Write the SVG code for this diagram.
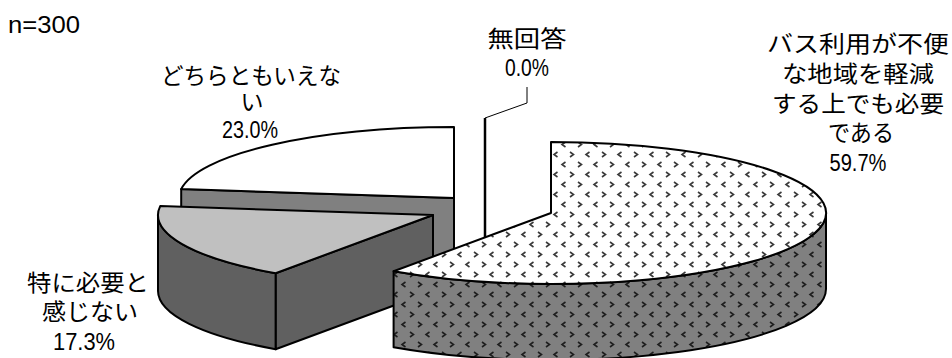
<svg xmlns="http://www.w3.org/2000/svg" width="952" height="358" viewBox="0 0 952 358">
<style>
.o{stroke:#000;stroke-width:2;stroke-linejoin:round}
.t{font-family:"Noto Sans CJK JP","Liberation Sans",sans-serif;font-size:23px;fill:#000;text-anchor:middle}
.n{font-family:"Liberation Sans","Noto Sans",sans-serif;font-size:24px;fill:#000;text-anchor:middle}
</style>
<defs>
<g id="mk" fill="none" stroke-width="1.6">
<polyline points="2,2 5.5,4.5 2,7"/>
<polyline points="21.5,2 18,4.5 21.5,7"/>
<polyline points="13.5,12 10,14.5 13.5,17"/>
<polyline points="26,12 29.5,14.5 26,17"/>
</g>
<pattern id="pw" patternUnits="userSpaceOnUse" width="32" height="20">
<rect width="32" height="20" fill="#fff"/>
<use href="#mk" stroke="#3a3a3a"/>
</pattern>
<pattern id="pg" patternUnits="userSpaceOnUse" width="32" height="20">
<rect width="32" height="20" fill="#808080"/>
<use href="#mk" stroke="#1e1e1e"/>
</pattern>
</defs>

<g id="slice-neutral">
<path class="o" fill="#808080" d="M454,198 L181.2,189.1 L181.2,265.1 L454,274 Z"/>
<path class="o" fill="#fff" d="M454,198 L181.2,189.1 A275,71 0 0,1 454,127 Z"/>
</g>

<g id="slice-noanswer">
<line x1="485" y1="118" x2="485" y2="285" stroke="#000" stroke-width="2.5"/>
</g>

<g id="connectors">
<polyline points="485,118 527,103 527,87" fill="none" stroke="#000" stroke-width="1"/>
</g>

<g id="slice-unneeded">
<path class="o" fill="#606060" d="M433,215 L275.6,273.2 L275.6,349.2 L433,291 Z"/>
<path class="o" fill="#606060" d="M275.6,273.2 A275,71 0 0,1 158,215 L158,291 A275,71 0 0,0 275.6,349.2 Z"/>
<path class="o" fill="#c0c0c0" d="M433,215 L275.6,273.2 A275,71 0 0,1 160.2,206.1 Z"/>
</g>

<g id="slice-needed">
<path class="o" fill="url(#pg)" d="M826,213 A275,71 0 0,1 393.6,271.2 L393.6,347.2 A275,71 0 0,0 826,289 Z"/>
<path class="o" fill="url(#pw)" d="M551,213 L551,142 A275,71 0 1,1 393.6,271.2 Z"/>
</g>

<g id="labels">
<text x="8" y="33" font-family="Liberation Sans,Noto Sans,sans-serif" font-size="24" textLength="72" lengthAdjust="spacingAndGlyphs">n=300</text>

<text class="t" x="858" y="52" textLength="182" lengthAdjust="spacingAndGlyphs">バス利用が不便</text>
<text class="t" x="858" y="82" textLength="152" lengthAdjust="spacingAndGlyphs">な地域を軽減</text>
<text class="t" x="858" y="112" textLength="172" lengthAdjust="spacingAndGlyphs">する上でも必要</text>
<text class="t" x="861" y="141" textLength="66" lengthAdjust="spacingAndGlyphs">である</text>
<text class="n" x="858" y="171" textLength="57" lengthAdjust="spacingAndGlyphs">59.7%</text>

<text class="t" x="527" y="47" textLength="79" lengthAdjust="spacingAndGlyphs">無回答</text>
<text class="n" x="527" y="76" textLength="44" lengthAdjust="spacingAndGlyphs">0.0%</text>

<text class="t" x="251" y="84" textLength="180" lengthAdjust="spacingAndGlyphs">どちらともいえな</text>
<text class="t" x="252" y="110">い</text>
<text class="n" x="250" y="138" textLength="56" lengthAdjust="spacingAndGlyphs">23.0%</text>

<text class="t" x="88" y="291" textLength="122" lengthAdjust="spacingAndGlyphs">特に必要と</text>
<text class="t" x="90" y="320" textLength="96" lengthAdjust="spacingAndGlyphs">感じない</text>
<text class="n" x="84" y="350" textLength="62" lengthAdjust="spacingAndGlyphs">17.3%</text>
</g>
</svg>
